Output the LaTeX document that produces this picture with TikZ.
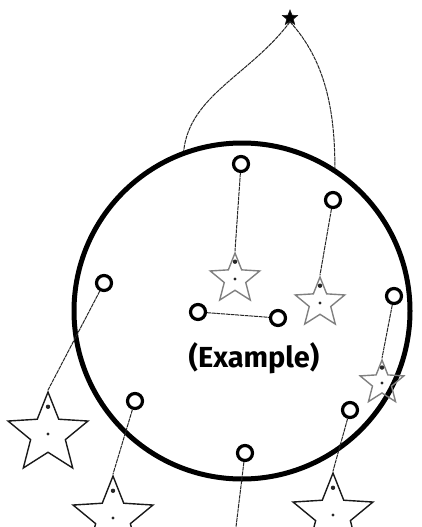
\documentclass[tikz,border=0pt]{standalone}
\usepackage{fontspec}
\newfontfamily\labelfont{Fira Sans}
\usetikzlibrary{shapes.geometric, calc}

\tikzset{
  ring/.style={circle, draw=black, line width=5pt, minimum size=336pt, inner sep=0pt},
  hook/.style={circle, draw=black, line width=3.2pt, minimum size=15pt, inner sep=0pt},
  starshape/.style={star, star points=5, star point ratio=2.3, draw=black!90,
                    line width=1.4pt, inner sep=0pt, minimum size=#1},
  paler/.style={draw=black!50},
  string/.style={draw=black!85, line width=1pt, dash pattern=on 4pt off 0.7pt}
}

\begin{document}
\begin{tikzpicture}[x=1pt, y=-1pt]
  \useasboundingbox (0,0) rectangle (422,527);
  % the big hoop
  \node[ring] (hoop) at (242,311) {};
  % little star on top, where it hangs from
  \node[starshape=16pt, fill=black, line width=0.6pt] (top) at (290,18) {};
  \draw[string] (top.south) .. controls (250,75) and (190,95) .. (hoop.110);
  \draw[string] (top.south) .. controls (325,60) and (335,110) .. (hoop.57);
  % hooks: name/x/y
  \foreach \n/\x/\y in {hA/241/164, hB/333/200, hC/104/283, hD/198/312, hE/278/318,
                        hF/394/296, hG/135/401, hH/350/410, hI/245/453} {
    \node[hook] (\n) at (\x,\y) {};
  }
  % stars inside the hoop (grey)
  \node[starshape=52pt, paler] (sA) at (235,279) {};
  \node[starshape=52pt, paler] (sB) at (320,303) {};
  \node[starshape=46pt, paler] (sF) at (382,383) {};
  % stars outside (black)
  \node[starshape=84pt] (sC) at (48,434) {};
  \node[starshape=84pt] (sG) at (113,518) {};
  \node[starshape=84pt] (sH) at (333,515) {};
  \coordinate (cut) at (236,527);
  % strings
  \draw[string] (hA) -- (sA.north);
  \draw[string] (hB) -- (sB.north);
  \draw[string] (hC) -- (sC.north);
  \draw[string] (hD) -- (hE);
  \draw[string] (hF) -- (sF.north);
  \draw[string] (hG) -- (sG.north);
  \draw[string] (hH) -- (sH.north);
  \draw[string] (hI) -- (cut);
  % dots on the stars
  \foreach \s in {sA, sB, sC, sF, sG, sH} {
    \fill[black!85] ($(\s.center)!0.62!(\s.north)$) circle (2.2pt);
    \fill[black!85] (\s.center) circle (1.6pt);
  }
  \node[font=\labelfont\bfseries\fontsize{29}{34}\selectfont] (label) at (254,358) {(Example)};
\end{tikzpicture}
\end{document}
